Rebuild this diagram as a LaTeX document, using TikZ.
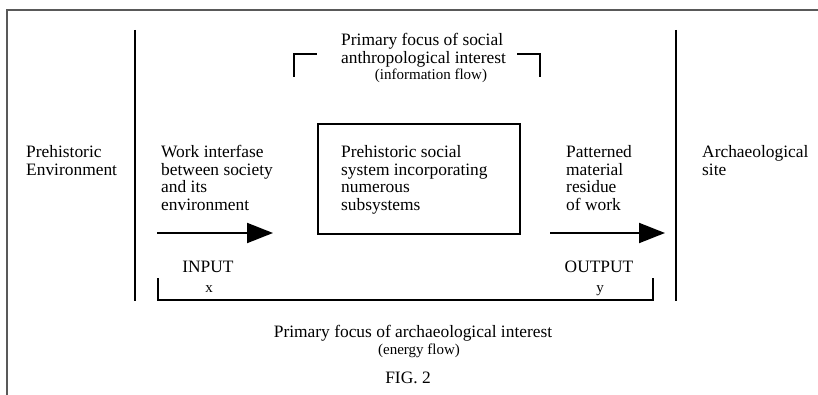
\documentclass[tikz,border=0pt]{standalone}
\usepackage{fontspec}
\setmainfont{Liberation Serif}
\usetikzlibrary{positioning,arrows.meta,calc}

\begin{document}
\begin{tikzpicture}[x=1pt,y=-1pt]

    \tikzstyle{txt} = [inner sep=0pt, anchor=base west, align=left, font=\fontsize{17.4}{17.5}\selectfont]
    \tikzstyle{ctxt} = [inner sep=0pt, anchor=base, align=center, font=\fontsize{17.4}{17.5}\selectfont]
    \tikzstyle{small} = [inner sep=0pt, anchor=base, font=\fontsize{15}{16}\selectfont]
    \tikzstyle{bar} = [line width=2pt]
    \tikzstyle{arrow} = [line width=2pt, -{Triangle[length=26pt,width=20pt]}]

    \useasboundingbox (0,0) rectangle (818,395);
    \draw [gray!70!black, line width=1.5pt] (7,395) -- (7,10) -- (818,10);

    % column texts (placed by the baseline of the last line)
    \node [txt] (environment) at (26,175.5) {Prehistoric\\Environment};
    \node [txt] (interfase) at (161,210.5) {Work interfase\\between society\\and its\\environment};
    \node [txt] (socialtext) at (341,210.5) {Prehistoric social\\system incorporating\\numerous\\subsystems};
    \node [txt] (residue) at (566,210.5) {Patterned\\material\\residue\\of work};
    \node [txt] (site) at (702,175.5) {Archaeological\\site};

    % the social system
    \node [draw, bar, inner sep=0pt, minimum width=202pt, minimum height=110pt, anchor=north west] (socsys) at (317,123) {};

    % dividers
    \coordinate (divLtop) at (135,30);
    \coordinate (divLbot) at (135,301);
    \coordinate (divRtop) at (676,30);
    \coordinate (divRbot) at (676,301);
    \draw [bar] (divLtop) -- (divLbot);
    \draw [bar] (divRtop) -- (divRbot);

    % flows
    \coordinate (inStart) at (157,233);
    \coordinate (inEnd) at (273,233);
    \coordinate (outStart) at (550,233);
    \coordinate (outEnd) at (665,233);
    \draw [arrow] (inStart) -- (inEnd);
    \draw [arrow] (outStart) -- (outEnd);

    \node [ctxt] (input) at (208,272) {INPUT};
    \node [small] (inx) at (209,292) {x};
    \node [ctxt] (output) at (599,272) {OUTPUT};
    \node [small] (outy) at (600,292) {y};

    % social anthropology bracket
    \node [txt] (focusSoc) at (341,63.5) {Primary focus of social\\anthropological interest};
    \node [small] (infoFlow) at (431,80) {(information flow)};
    \coordinate (brTL) at (294,54);
    \coordinate (brTR) at (540,54);
    \draw [bar] ($(brTL)+(0,23)$) -- (brTL) -- ++(23,0);
    \draw [bar] ($(brTR)+(0,23)$) -- (brTR) -- ++(-23,0);

    % archaeology bracket
    \coordinate (brBL) at (158,300);
    \coordinate (brBR) at (653,300);
    \draw [bar] ($(brBL)+(0,-22)$) -- (brBL) -- (brBR) -- ++(0,-22);
    \node [ctxt] (focusArch) at (413,337) {Primary focus of archaeological interest};
    \node [small] (energyFlow) at (419,354) {(energy flow)};
    \node [ctxt] (fig) at (408,383) {FIG. 2};

\end{tikzpicture}
\end{document}
